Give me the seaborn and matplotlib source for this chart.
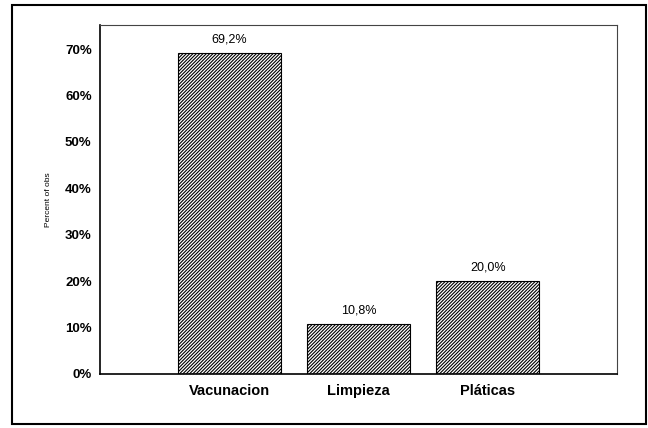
import matplotlib
matplotlib.use('Agg')
import matplotlib.pyplot as plt
import matplotlib.patches as mpatches
import seaborn as sns
import pandas as pd

categorias = ['Vacunacion', 'Limpieza', 'Pláticas']
porcentajes = [69.2, 10.8, 20.0]
etiquetas = ['69,2%', '10,8%', '20,0%']
yticks = [0, 10, 20, 30, 40, 50, 60, 70]

df = pd.DataFrame({'Actividad': categorias, 'Pct': porcentajes})

sns.set_style('white')
plt.rcParams['font.family'] = ['Liberation Sans', 'DejaVu Sans']
plt.rcParams['hatch.linewidth'] = 0.8
plt.rcParams['text.color'] = 'black'
plt.rcParams['xtick.color'] = 'black'
plt.rcParams['ytick.color'] = 'black'
plt.rcParams['axes.labelcolor'] = 'black'

fig = plt.figure(figsize=(6.48, 4.28), dpi=100)
ax = fig.add_axes([100 / 648, 1 - 374 / 428, 517 / 648, 349 / 428])

sns.barplot(x='Actividad', y='Pct', data=df, ax=ax, color='white',
            edgecolor='black', linewidth=0.8, width=0.8)
for p in ax.patches:
    p.set_hatch('//////////')

for i, (v, lab) in enumerate(zip(porcentajes, etiquetas)):
    ax.text(i, v + 1.6, lab, ha='center', va='bottom', fontsize=9)

ax.set_xlim(-1, 3)
ax.set_ylim(0, 75.2)
ax.set_yticks(yticks)
ax.set_yticklabels([f'{t}%' for t in yticks], fontsize=9.5, fontweight='bold')
ax.set_xticks(range(len(categorias)))
ax.set_xticklabels(categorias, fontsize=10.5, fontweight='bold')
ax.tick_params(axis='x', length=0, pad=7)
ax.tick_params(axis='y', length=0, pad=6)
ax.set_xlabel('')
ax.set_ylabel('Percent of obs', fontsize=6, labelpad=9)

for side in ['left', 'bottom']:
    ax.spines[side].set_linewidth(1.2)
    ax.spines[side].set_color('black')
for side in ['top', 'right']:
    ax.spines[side].set_linewidth(0.8)
    ax.spines[side].set_color('#444444')

# marco exterior
frame = mpatches.Rectangle((12 / 648, 4 / 428), 634 / 648, 419 / 428,
                           transform=fig.transFigure, fill=False,
                           edgecolor='black', linewidth=1.5)
fig.patches.append(frame)

fig.savefig('out.png', dpi=100)
